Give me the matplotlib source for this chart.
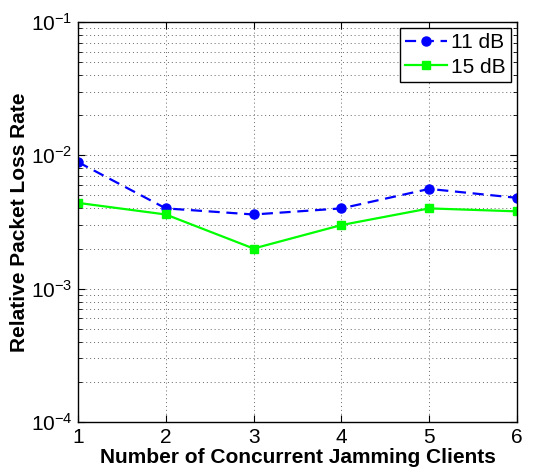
import matplotlib
matplotlib.use("Agg")
import matplotlib.pyplot as plt
from matplotlib.ticker import LogLocator, NullFormatter

plt.rcParams['font.family'] = ['Liberation Sans', 'DejaVu Sans']

clients = [1, 2, 3, 4, 5, 6]
loss_11db = [0.0089, 0.0040, 0.0036, 0.0040, 0.0056, 0.0048]
loss_15db = [0.0044, 0.0036, 0.0020, 0.0030, 0.0040, 0.0038]

fig = plt.figure(figsize=(5.33, 4.73), dpi=100)
ax = fig.add_axes([0.1463, 0.1078, 0.8237, 0.8457])

ax.plot(clients, loss_11db, linestyle='--', color='#0000ff', marker='o',
        markersize=6.5, linewidth=1.6, label='11 dB', dashes=(5, 3))
ax.plot(clients, loss_15db, linestyle='-', color='#00ff00', marker='s',
        markersize=5.5, linewidth=1.6, label='15 dB')

ax.set_yscale('log')
ax.set_xlim(1, 6)
ax.set_ylim(1e-4, 1e-1)
ax.set_xticks(clients)
ax.yaxis.set_major_locator(LogLocator(base=10, numticks=10))
ax.yaxis.set_minor_locator(LogLocator(base=10, subs=range(2, 10), numticks=20))
ax.yaxis.set_minor_formatter(NullFormatter())

grid_style = dict(linestyle=(0, (1, 3)), color='#666666', linewidth=0.7)
ax.grid(True, which='major', **grid_style)
ax.grid(True, which='minor', axis='y', **grid_style)

ax.tick_params(which='both', direction='in', top=True, right=True, labelsize=15)
ax.tick_params(which='major', length=5, pad=4)
ax.tick_params(which='minor', length=3)
for s in ax.spines.values():
    s.set_linewidth(1.0)

ax.set_xlabel('Number of Concurrent Jamming Clients', fontsize=15, fontweight='bold', labelpad=1)
ax.set_ylabel('Relative Packet Loss Rate', fontsize=15, fontweight='bold', labelpad=1)

leg = ax.legend(loc='upper right', fontsize=15, fancybox=False, framealpha=1,
                edgecolor='black', borderaxespad=0.3, handlelength=2.0,
                borderpad=0.25, labelspacing=0.25, handletextpad=0.2)
leg.get_frame().set_linewidth(1.0)

fig.savefig('out.png', dpi=100)
